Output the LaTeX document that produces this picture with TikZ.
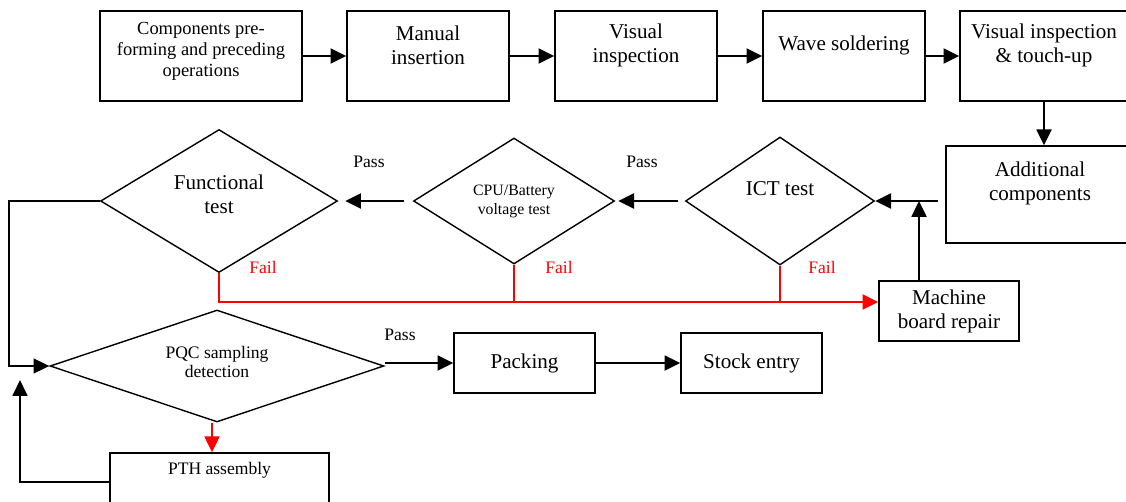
\documentclass[tikz,border=0pt]{standalone}
\usepackage{fontspec}
\setmainfont{Liberation Serif}
\usetikzlibrary{shapes.geometric,arrows.meta,positioning,calc}

\begin{document}
\begin{tikzpicture}[x=0.02cm,y=-0.02cm,
    box/.style={draw, line width=0.8pt, inner sep=0pt},
    dia/.style={draw, diamond, line width=0.8pt, inner sep=0pt},
    big/.style={font=\fontsize{12}{13.7}\selectfont, align=center},
    small/.style={font=\fontsize{10}{11.5}\selectfont, align=center},
    arr/.style={line width=1.2pt, -{Triangle[length=9pt,width=8.5pt]}},
    fail/.style={red, line width=0.8pt}]
    \useasboundingbox (0,0) rectangle (1126,501);
            %
            \node[box, minimum width=4.04cm, minimum height=1.8cm, label={[small, font=\fontsize{10.5}{12}\selectfont, yshift=0.1cm]center:Components pre-\\forming and preceding\\operations}] (s1) at (201,56) {};
            \node[box, minimum width=3.24cm, minimum height=1.8cm, label={[big, yshift=0.22cm]center:Manual\\insertion}] (s2) at (428,56) {};
            \node[box, minimum width=3.24cm, minimum height=1.8cm, label={[big, yshift=0.22cm]center:Visual\\inspection}] (s3) at (636,56) {};
            \node[box, minimum width=3.24cm, minimum height=1.8cm, label={[big, yshift=0.22cm]center:Wave soldering}] (s4) at (844,56) {};
            \node[box, minimum width=3.36cm, minimum height=1.8cm, label={[big, yshift=0.22cm]center:Visual inspection\\\& touch-up}] (s5) at (1044,56) {};
            \node[box, minimum width=3.92cm, minimum height=1.94cm, label={[big, yshift=0.22cm, xshift=-0.08cm]center:Additional\\components}] (add) at (1044,194.5) {};

            % tests
            \node[dia, minimum width=4.74cm, minimum height=2.86cm, label={[big, yshift=0.14cm]center:Functional\\test}] (ft) at (219,201) {};
            \node[dia, minimum width=4.02cm, minimum height=2.52cm, label={[small, font=\fontsize{9}{10.8}\selectfont]center:CPU/Battery\\voltage test}] (cpu) at (514,201) {};
            \node[dia, minimum width=3.78cm, minimum height=2.56cm, label={[big, yshift=0.24cm]center:ICT test}] (ict) at (780,201) {};
            \node[box, minimum width=2.8cm, minimum height=1.2cm, big] (rep) at (949,311) {Machine\\board repair};

            % final stage
            \node[dia, minimum width=6.68cm, minimum height=2.24cm, label={[small, font=\fontsize{10}{10.8}\selectfont, yshift=0.09cm]center:PQC sampling\\detection}] (pqc) at (217,366) {};
            \node[box, minimum width=2.82cm, minimum height=1.2cm, big] (pack) at (524.5,363) {Packing};
            \node[box, minimum width=2.82cm, minimum height=1.2cm, big] (stock) at (751.5,363) {Stock entry};
            \node[box, minimum width=4.38cm, minimum height=1.34cm, label={[small, yshift=0.33cm]center:PTH assembly}] (pth) at (219.5,486.5) {};

            % labels
            \node[small] (pass1) at (369,162) {Pass};
            \node[small] (pass2) at (642,162) {Pass};
            \node[small] (pass3) at (400,335) {Pass};
            \node[small, red] (fail1) at (263,267) {Fail};
            \node[small, red] (fail2) at (559,267) {Fail};
            \node[small, red] (fail3) at (822,267) {Fail};

            \coordinate (bus) at (0,302);
            \coordinate (lft) at (9,366);
            \coordinate (up) at (20,380);

            % main flow
            \draw[arr] (s1) -- (s2);
            \draw[arr] (s2) -- (s3);
            \draw[arr] (s3) -- (s4);
            \draw[arr] (s4) -- (s5);
            \draw[arr] (s5) -- (add);
            \draw[arr, shorten <=0.14cm] (ict.east -| add.west) -- (ict.east);
            \draw[arr, shorten <=0.14cm, shorten >=0.06cm] (ict.west) -- (cpu.east);
            \draw[arr, shorten <=0.17cm, shorten >=0.14cm] (cpu.west) -- (ft.east);
            \draw[arr] ([xshift=-0.6cm]rep.north) -- ([xshift=-0.6cm]rep.north |- ict.east);
            \draw[arr, line width=0.8pt] (ft.west) -| (lft) -- (pqc.west);
            \draw[arr] (pack.west -| pqc.east) -- (pack.west);
            \draw[arr] (pack) -- (stock);
            \draw[arr, line width=0.8pt] ([yshift=0.09cm]pth.west) -| (up);

            % Fail paths
            \draw[fail] (ft.south) |- (ict.south |- bus);
            \draw[fail] (cpu.south) -- (cpu.south |- bus);
            \draw[fail] (ict.south) -- (ict.south |- bus);
            \draw[fail, arr] (ict.south |- bus) -- (rep.west |- bus);
            \draw[fail, arr, line width=1pt] ([xshift=-0.1cm]pqc.south) -- ([xshift=-0.1cm]pqc.south |- pth.north);
\end{tikzpicture}
\end{document}
